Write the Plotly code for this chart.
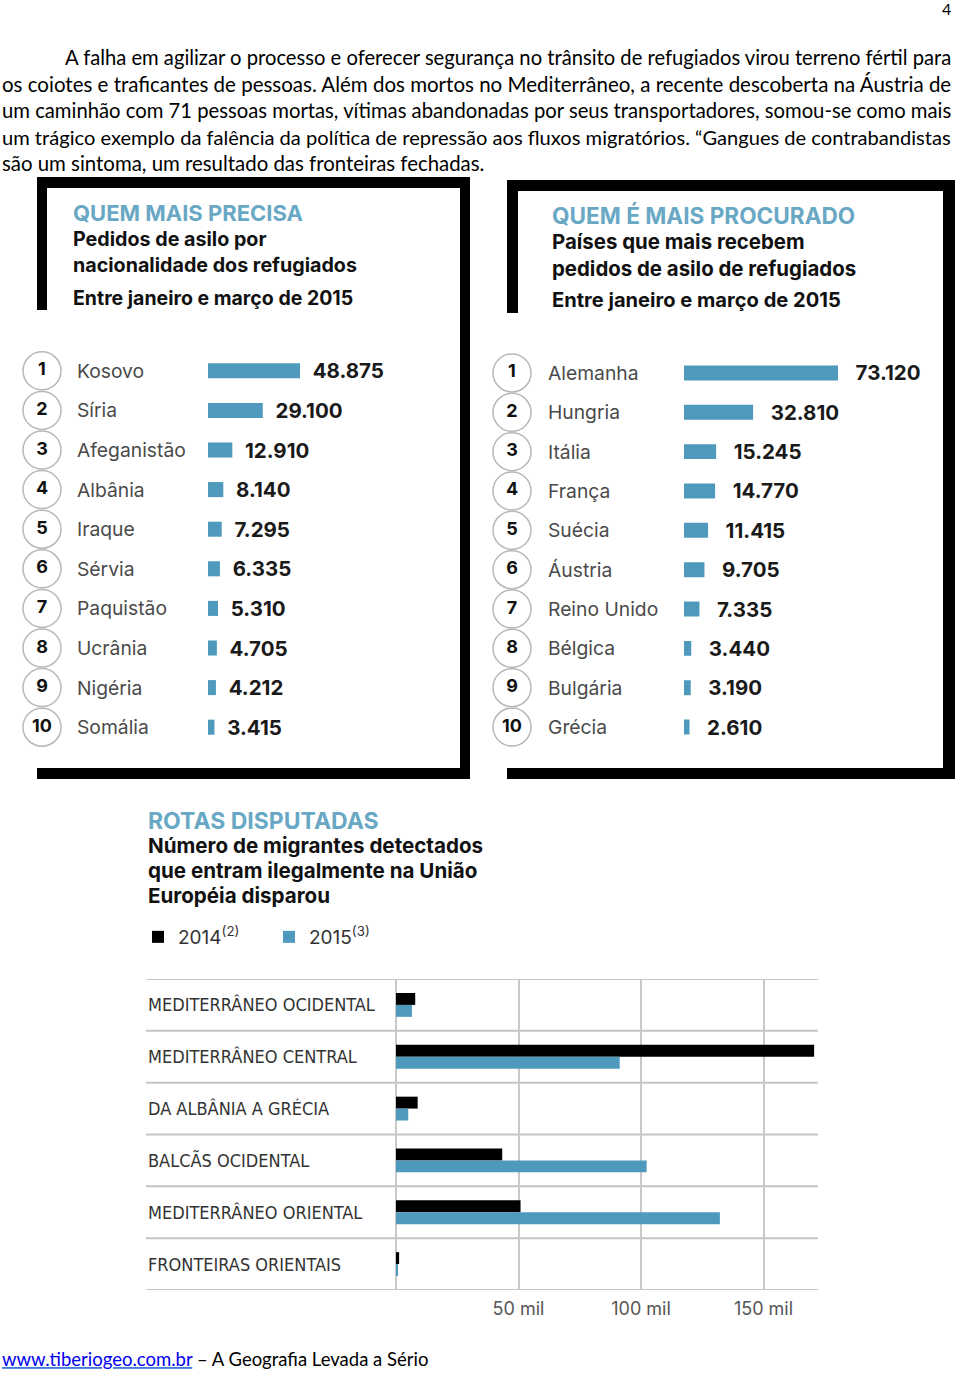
import plotly.graph_objects as go

# ---------------- data ----------------
origin_countries = ["Kosovo", "Síria", "Afeganistão", "Albânia", "Iraque",
                    "Sérvia", "Paquistão", "Ucrânia", "Nigéria", "Somália"]
origin_values = [48875, 29100, 12910, 8140, 7295, 6335, 5310, 4705, 4212, 3415]

dest_countries = ["Alemanha", "Hungria", "Itália", "França", "Suécia",
                  "Áustria", "Reino Unido", "Bélgica", "Bulgária", "Grécia"]
dest_values = [73120, 32810, 15245, 14770, 11415, 9705, 7335, 3440, 3190, 2610]

routes = ["MEDITERRÂNEO OCIDENTAL", "MEDITERRÂNEO CENTRAL", "DA ALBÂNIA A GRÉCIA",
          "BALCÃS OCIDENTAL", "MEDITERRÂNEO ORIENTAL", "FRONTEIRAS ORIENTAIS"]
migrants_2014 = [7842, 170664, 8841, 43357, 50834, 1275]
migrants_2015 = [6500, 91300, 5000, 102300, 132200, 600]
series_names = ["2014<sup>(2)</sup>", "2015<sup>(3)</sup>"]

route_ticks = [50000, 100000, 150000]
route_ticktext = ["50 mil", "100 mil", "150 mil"]

paragraph = [
    "A falha em agilizar o processo e oferecer segurança no trânsito de refugiados virou terreno fértil para",
    "os coiotes e traficantes de pessoas. Além dos mortos no Mediterrâneo, a recente descoberta na Áustria de",
    "um caminhão com 71 pessoas mortas, vítimas abandonadas por seus transportadores, somou-se como mais",
    "um trágico exemplo da falência da política de repressão aos fluxos migratórios. “Gangues de contrabandistas",
    "são um sintoma, um resultado das fronteiras fechadas.",
]

# ---------------- helpers ----------------
W, H = 960, 1375
def X(px):
    return px / W
def Y(py):
    return 1 - py / H

BLUE = "#4f99bd"
TEAL = "#69a8c5"
INFO = "Inter, Liberation Sans, Arial, sans-serif"
COND = "DejaVu Sans Condensed, Liberation Sans Narrow, Liberation Sans, sans-serif"
BODY = "Lato, Liberation Sans, sans-serif"
NB = "\u00a0"

def fmt(v):
    return f"{v:,}".replace(",", ".")

fig = go.Figure()
annotations = []
shapes = []

# ---------------- top panels ----------------
panels = [
    dict(names=origin_countries, vals=origin_values, xc="x", xb="x2", y="y",
         circ_dom=[X(0), X(84)], bar_dom=[X(208), X(455)], bar_px=(208, 300),
         ydom=[Y(747), Y(351)], name_x=75, pad=2),
    dict(names=dest_countries, vals=dest_values, xc="x3", xb="x4", y="y2",
         circ_dom=[X(470), X(554)], bar_dom=[X(684), X(940)], bar_px=(684, 838),
         ydom=[Y(746.7), Y(353.3)], name_x=546, pad=3),
]

for p in panels:
    ranks = [str(i + 1) for i in range(len(p["names"]))]
    fig.add_trace(go.Scatter(
        x=[0.5] * len(p["names"]), y=p["names"], xaxis=p["xc"], yaxis=p["y"],
        mode="markers+text", text=ranks, textposition="middle center",
        textfont=dict(family=INFO, size=18, color="#111", weight="bold"),
        marker=dict(symbol="circle", size=38, color="white",
                    line=dict(color="#b8b8b8", width=1.5)),
        cliponaxis=False, showlegend=False, hoverinfo="skip"))
    fig.add_trace(go.Bar(
        x=p["vals"], y=p["names"], orientation="h", xaxis=p["xb"], yaxis=p["y"],
        marker=dict(color=BLUE, line=dict(width=0)), width=0.38,
        text=[NB * p["pad"] + fmt(v) for v in p["vals"]], textposition="outside",
        textfont=dict(family=INFO, size=20.5, color="#1a1a1a", weight="bold"),
        cliponaxis=False, constraintext="none",
        showlegend=False, hoverinfo="skip"))
    for n in p["names"]:
        annotations.append(dict(
            x=X(p["name_x"]), xref="paper", y=n, yref=p["y"], text=n,
            xanchor="left", yanchor="middle", showarrow=False,
            font=dict(family=INFO, size=19.3, color="#4a4a4a")))

# ---------------- bottom chart ----------------
fig.add_trace(go.Bar(
    x=migrants_2014, y=routes, orientation="h", xaxis="x5", yaxis="y3",
    name=series_names[0], marker=dict(color="#000000", line=dict(width=0)),
    hoverinfo="skip"))
fig.add_trace(go.Bar(
    x=migrants_2015, y=routes, orientation="h", xaxis="x5", yaxis="y3",
    name=series_names[1], marker=dict(color=BLUE, line=dict(width=0)),
    hoverinfo="skip"))

for r in routes:
    annotations.append(dict(
        x=X(146), xref="paper", y=r, yref="y3", text=r,
        xanchor="left", yanchor="middle", showarrow=False,
        font=dict(family=COND, size=18, color="#333")))

for i in range(len(routes) + 1):
    shapes.append(dict(type="line", xref="paper", yref="y3",
                       x0=X(146), x1=X(818), y0=i - 0.5, y1=i - 0.5,
                       line=dict(color="#c4c4c4", width=2), layer="below"))

# ---------------- frames ----------------
frame_rects = [
    (37, 177, 470, 188), (37, 177, 47, 310), (460, 177, 470, 779), (37, 768, 470, 779),
    (507, 180, 955, 191), (507, 180, 518, 313), (943, 180, 955, 779), (507, 768, 955, 779),
]
for (x0, y0, x1, y1) in frame_rects:
    shapes.append(dict(type="rect", xref="paper", yref="paper",
                       x0=X(x0), x1=X(x1), y0=Y(y1), y1=Y(y0),
                       fillcolor="#000", line=dict(width=0)))

# ---------------- titles ----------------
def txt(x, y, s, size, color="#111", bold=False, family=INFO, anchor="left"):
    annotations.append(dict(
        x=X(x), y=Y(y), xref="paper", yref="paper", text=s,
        xanchor=anchor, yanchor="middle", showarrow=False,
        font=dict(family=family, size=size, color=color,
                  weight="bold" if bold else "normal")))

txt(71, 213, "QUEM MAIS PRECISA", 22, TEAL, True)
txt(71, 239, "Pedidos de asilo por", 19.7, "#111", True)
txt(71, 265, "nacionalidade dos refugiados", 19.7, "#111", True)
txt(71, 298, "Entre janeiro e março de 2015", 19.5, "#111", True)

txt(550, 216, "QUEM É MAIS PROCURADO", 22.6, TEAL, True)
txt(550, 242, "Países que mais recebem", 20.4, "#111", True)
txt(550, 268, "pedidos de asilo de refugiados", 20.4, "#111", True)
txt(550, 300, "Entre janeiro e março de 2015", 20.1, "#111", True)

txt(146, 821, "ROTAS DISPUTADAS", 23, TEAL, True)
txt(146, 845, "Número de migrantes detectados", 20.6, "#111", True)
txt(146, 870, "que entram ilegalmente na União", 20.6, "#111", True)
txt(146, 895, "Européia disparou", 20.6, "#111", True)

# paragraph (sizes chosen per line to approximate justified text)
line_y = [57, 84, 110, 137, 163]
line_size = [20.2, 20.5, 20.25, 20.1, 20.4]
for i, (s, ly, fs) in enumerate(zip(paragraph, line_y, line_size)):
    txt(63 if i == 0 else 0, ly, s, fs, "#000", False, BODY)

txt(953, 8, "4", 16, "#000", False, BODY, anchor="right")
txt(0, 1359, "<a href='http://www.tiberiogeo.com.br'><u><span style='color:#0000ee'>www.tiberiogeo.com.br</span></u></a> – A Geografia Levada a Sério",
    18.5, "#000", False, BODY)

# ---------------- layout ----------------
hidden = dict(visible=False, showgrid=False, zeroline=False, fixedrange=True)
n_o, n_d, n_r = len(origin_countries), len(dest_countries), len(routes)
fig.update_layout(
    width=W, height=H, margin=dict(l=0, r=0, t=0, b=0),
    paper_bgcolor="white", plot_bgcolor="rgba(0,0,0,0)",
    barmode="group", bargap=0.54, bargroupgap=0,
    xaxis=dict(hidden, domain=panels[0]["circ_dom"], range=[0, 1], anchor="y"),
    xaxis2=dict(hidden, domain=panels[0]["bar_dom"], anchor="y",
                range=[0, max(origin_values) * (455 - 208) / (300 - 208)]),
    yaxis=dict(hidden, domain=panels[0]["ydom"], range=[n_o - 0.5, -0.5], anchor="x"),
    xaxis3=dict(hidden, domain=panels[1]["circ_dom"], range=[0, 1], anchor="y2"),
    xaxis4=dict(hidden, domain=panels[1]["bar_dom"], anchor="y2",
                range=[0, max(dest_values) * (940 - 684) / (838 - 684)]),
    yaxis2=dict(hidden, domain=panels[1]["ydom"], range=[n_d - 0.5, -0.5], anchor="x3"),
    xaxis5=dict(domain=[X(396), X(818)], anchor="y3",
                range=[0, 50000 * (818 - 396) / 122.5],
                tickvals=route_ticks, ticktext=route_ticktext,
                showgrid=True, gridcolor="#c8c8c8", gridwidth=1.5,
                zeroline=True, zerolinecolor="#c8c8c8", zerolinewidth=1.5,
                showline=False, ticks="", ticklabelstandoff=6,
                tickfont=dict(family=INFO, size=18, color="#555"), fixedrange=True),
    yaxis3=dict(domain=[Y(1290), Y(979)], anchor="x5", range=[n_r - 0.5, -0.5],
                showticklabels=False, showgrid=False, zeroline=False, ticks="",
                fixedrange=True),
    legend=dict(orientation="h", x=X(138), y=Y(937), xanchor="left", yanchor="middle",
                font=dict(family=INFO, size=19, color="#333"),
                entrywidth=86, entrywidthmode="pixels", bgcolor="rgba(0,0,0,0)",
                traceorder="normal"),
    annotations=annotations, shapes=shapes,
)

fig.write_html("out.html", config={"displayModeBar": False},
               post_script="document.body.style.margin='0px';")
